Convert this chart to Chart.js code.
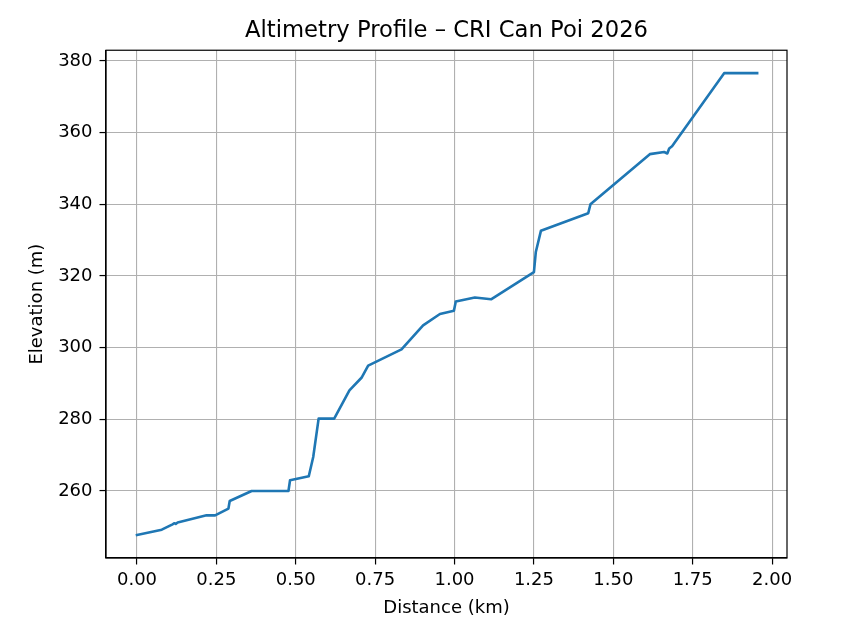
<!DOCTYPE html>
<html>
<head>
<meta charset="utf-8">
<script src="https://cdn.jsdelivr.net/npm/chart.js@4.4.1/dist/chart.umd.min.js"></script>
<style>
  body { margin: 0; background: #fff; }
  #wrap { width: 853px; height: 635px; }
</style>
</head>
<body>
<div id="wrap"><canvas id="profile" width="853" height="635"></canvas></div>
<script>
// distance along the route (km) and elevation (m)
var distKm = [0.000, 0.078, 0.112, 0.118, 0.122, 0.128, 0.219, 0.246, 0.288, 0.292,
              0.361, 0.477, 0.482, 0.541, 0.555, 0.572, 0.621, 0.669, 0.707, 0.728,
              0.833, 0.901, 0.954, 0.998, 1.004, 1.064, 1.115, 1.250, 1.256, 1.272,
              1.421, 1.428, 1.615, 1.660, 1.670, 1.676, 1.685, 1.849, 1.953];
var elevM  = [247.7, 249.2, 250.7, 251.0, 250.8, 251.2, 253.2, 253.2, 255.1, 257.2,
              260.0, 260.0, 263.0, 264.1, 269.5, 280.2, 280.2, 288.1, 291.6, 295.0,
              299.5, 306.2, 309.4, 310.3, 312.9, 314.0, 313.5, 321.1, 326.7, 332.6,
              337.5, 340.0, 354.0, 354.6, 354.2, 355.6, 356.2, 376.6, 376.6];
var xTicks = [0, 0.25, 0.5, 0.75, 1.0, 1.25, 1.5, 1.75, 2.0];
var yTicks = [260, 280, 300, 320, 340, 360, 380];

var points = distKm.map(function (d, i) { return { x: d, y: elevM[i] }; });

Chart.defaults.font.family = "'DejaVu Sans', sans-serif";
Chart.defaults.color = '#000';

// matplotlib-like frame around the axes
var frame = {
  id: 'frame',
  afterDatasetsDraw: function (chart) {
    var a = chart.chartArea, c = chart.ctx;
    c.save();
    c.strokeStyle = '#000';
    c.lineWidth = 1.2;
    c.strokeRect(a.left, a.top, a.right - a.left, a.bottom - a.top);
    c.restore();
  }
};

var ctx = document.getElementById('profile').getContext('2d');
var chart = new Chart(ctx, {
  type: 'scatter',
  data: {
    datasets: [{
      data: points,
      showLine: true,
      borderColor: '#1f77b4',
      borderWidth: 2.6,
      borderJoinStyle: 'round',
      borderCapStyle: 'square',
      pointRadius: 0,
      tension: 0
    }]
  },
  options: {
    responsive: false,
    animation: false,
    layout: { padding: { right: 66 } },
    plugins: {
      legend: { display: false },
      tooltip: { enabled: false },
      title: {
        display: true,
        text: 'Altimetry Profile – CRI Can Poi 2026',
        fullSize: false,
        font: { size: 22.7, weight: 'normal' },
        color: '#000',
        padding: { top: 17, bottom: 6 }
      }
    },
    scales: {
      x: {
        type: 'linear',
        min: -0.0976,
        max: 2.047,
        afterBuildTicks: function (s) { s.ticks = xTicks.map(function (v) { return { value: v }; }); },
        afterFit: function (s) { s.height = 77; },
        ticks: {
          font: { size: 18 },
          padding: 5,
          maxRotation: 0,
          autoSkip: false,
          callback: function (v) { return Number(v).toFixed(2); }
        },
        grid: { color: '#b0b0b0', lineWidth: 1.1, tickColor: '#000', tickLength: 6.5, tickWidth: 1.2 },
        border: { color: '#000', width: 1.2 },
        title: { display: true, text: 'Distance (km)', font: { size: 18 }, padding: { top: 0, bottom: 16 } }
      },
      y: {
        min: 241.3,
        max: 383,
        afterBuildTicks: function (s) { s.ticks = yTicks.map(function (v) { return { value: v }; }); },
        afterFit: function (s) { s.width = 106; },
        ticks: { font: { size: 18 }, padding: 7 },
        grid: { color: '#b0b0b0', lineWidth: 1.1, tickColor: '#000', tickLength: 6.5, tickWidth: 1.2 },
        border: { color: '#000', width: 1.2 },
        title: { display: true, text: 'Elevation (m)', font: { size: 18 }, padding: { top: 27, bottom: 0 } }
      }
    }
  },
  plugins: [frame]
});
</script>
</body>
</html>
